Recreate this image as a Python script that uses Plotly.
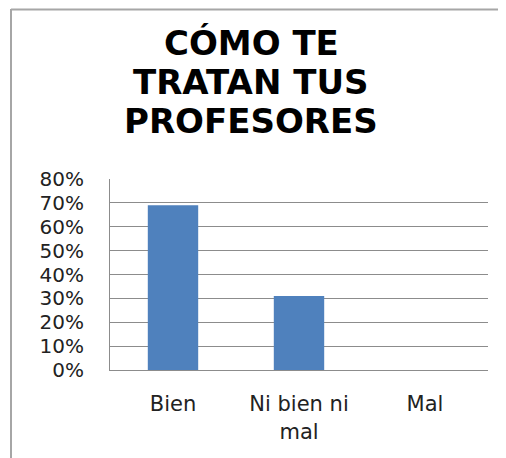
import plotly.graph_objects as go

categories = ["Bien", "Ni bien ni<br>mal", "Mal"]
values = [0.69, 0.31, 0.0]
title_lines = ["CÓMO TE", "TRATAN TUS", "PROFESORES"]
y_ticks = [0, 0.1, 0.2, 0.3, 0.4, 0.5, 0.6, 0.7, 0.8]
y_tick_labels = ["0%", "10%", "20%", "30%", "40%", "50%", "60%", "70%", "80%"]

# page body has an 8px margin; work in window pixels and compensate
OFF = 8
W, H = 506 - OFF, 458 - OFF
ML, MT = 110 - OFF, 179 - OFF
PW, PH = 378, 191
MR, MB = W - ML - PW, H - MT - PH

def px_to_paper_x(px):
    return (px - OFF - ML) / PW

def px_to_paper_y(py):
    return (MT + PH - (py - OFF)) / PH

fig = go.Figure()
fig.add_trace(go.Bar(
    x=categories, y=values,
    marker=dict(color="#4F81BD", line=dict(width=0)),
))

title_centers = [43, 82, 121]
for txt, cy in zip(title_lines, title_centers):
    fig.add_annotation(
        text=txt, x=px_to_paper_x(251), y=px_to_paper_y(cy),
        xref="paper", yref="paper", xanchor="center", yanchor="middle",
        showarrow=False, borderpad=0, borderwidth=0,
        font=dict(family="DejaVu Sans", size=34, color="#000000", weight="bold"),
    )

# outer frame lines
fig.add_shape(type="line", xref="paper", yref="paper",
              x0=px_to_paper_x(11), x1=px_to_paper_x(11),
              y0=px_to_paper_y(9), y1=px_to_paper_y(470),
              line=dict(color="#A6A6A6", width=2))
fig.add_shape(type="line", xref="paper", yref="paper",
              x0=px_to_paper_x(11), x1=px_to_paper_x(520),
              y0=px_to_paper_y(9.5), y1=px_to_paper_y(9.5),
              line=dict(color="#A6A6A6", width=2))

fig.update_layout(
    width=W, height=H,
    margin=dict(l=ML, r=MR, t=MT, b=MB),
    paper_bgcolor="white", plot_bgcolor="white",
    showlegend=False,
    bargap=0.6,
    font=dict(family="DejaVu Sans", color="#222222"),
)
fig.update_yaxes(
    range=[0, 0.8], tickvals=y_ticks, ticktext=y_tick_labels,
    showgrid=True, gridcolor="#8C8C8C", gridwidth=1,
    showline=True, linecolor="#8C8C8C", linewidth=1,
    zeroline=False, ticks="", ticklabelstandoff=21,
    tickfont=dict(size=20, color="#222222"),
)
fig.update_xaxes(
    showline=True, linecolor="#8C8C8C", linewidth=1,
    ticks="", ticklabelstandoff=15,
    tickfont=dict(size=21, color="#222222"),
)

fig.write_html("out.html")
